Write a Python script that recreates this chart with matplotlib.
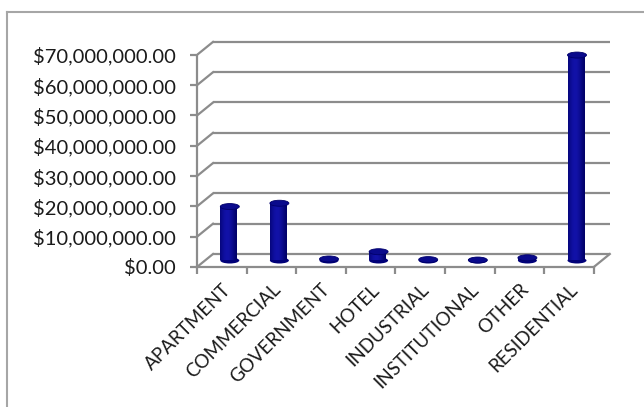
import numpy as np
import matplotlib.pyplot as plt
from matplotlib.patches import Ellipse
from matplotlib.ticker import FuncFormatter

categories = ["APARTMENT", "COMMERCIAL", "GOVERNMENT", "HOTEL", "INDUSTRIAL",
              "INSTITUTIONAL", "OTHER", "RESIDENTIAL"]
totals = [17.8e6, 18.9e6, 0.5e6, 2.9e6, 0.3e6, 0.15e6, 0.9e6, 67.8e6]
y_ticks = [0, 10e6, 20e6, 30e6, 40e6, 50e6, 60e6, 70e6]

grid_color = "#8c8c8c"
text_color = "#1a1a1a"
font = "Lato"

W, H = 644, 407
fig = plt.figure(figsize=(W / 100, H / 100), dpi=100)

# plot area in pixels: left, bottom, width, height
ax_px = (197, 137, 418, 230)
ax = fig.add_axes([ax_px[0] / W, ax_px[1] / H, ax_px[2] / W, ax_px[3] / H])

px_cat = 49.6        # pixels per category
px_10m = 30.3        # pixels per $10M
xmin = -0.5
xmax = xmin + ax_px[2] / px_cat
ymin = -3 / px_10m * 1e7
ymax = (ax_px[3] - 3) / px_10m * 1e7

# depth offset of the fake 3d box
dx = 16 / px_cat
dy = 13 / px_10m * 1e7
n = len(categories)

# back wall gridlines and side wall diagonals
for v in y_ticks:
    ax.plot([xmin + dx, n - 0.5 + dx], [v + dy, v + dy], color=grid_color, lw=1.6,
            solid_capstyle="butt", zorder=1)
    ax.plot([xmin, xmin + dx], [v, v + dy], color=grid_color, lw=1.6, zorder=1)
# floor right edge
ax.plot([n - 0.5, n - 0.5 + dx], [0, dy], color=grid_color, lw=1.6, zorder=1)

# cylinders
cyl_w = 19 / px_cat
ell_h = 6 / px_10m * 1e7
t = np.linspace(-1, 1, 64)
shade = np.cos((t + 0.25) * np.pi / 2.2) ** 1.5
dark = np.array([0.0, 0.0, 0.40])
light = np.array([0.07, 0.07, 0.66])
grad = (dark[None, :] + (light - dark)[None, :] * shade[:, None])[None, :, :]

for i, v in enumerate(totals):
    cx = i + dx / 2
    y0 = dy / 2
    y1 = v + dy / 2
    ax.add_patch(Ellipse((cx, y0), cyl_w, ell_h, facecolor="#000078",
                         edgecolor="none", zorder=3))
    ax.imshow(grad, extent=[cx - cyl_w / 2, cx + cyl_w / 2, y0, y1],
              aspect="auto", interpolation="bilinear", zorder=4)
    ax.add_patch(Ellipse((cx, y1), cyl_w, ell_h, facecolor="#0a0a8c",
                         edgecolor="#00006a", lw=0.6, zorder=5))

ax.set_xlim(xmin, xmax)
ax.set_ylim(ymin, ymax)

# front axes
for side in ("top", "right"):
    ax.spines[side].set_visible(False)
ax.spines["left"].set_bounds(0, 70e6)
ax.spines["bottom"].set_position(("data", 0))
ax.spines["bottom"].set_bounds(-0.5, n - 0.5)
for side in ("left", "bottom"):
    ax.spines[side].set_color(grid_color)
    ax.spines[side].set_linewidth(1.6)

ax.set_yticks(y_ticks)
ax.yaxis.set_major_formatter(FuncFormatter(lambda v, p: f"${v:,.2f}"))
ax.tick_params(axis="y", colors=grid_color, labelcolor=text_color, length=5,
               width=1.6, pad=10, labelsize=14.5)

ax.set_xticks(np.arange(n + 1) - 0.5)
ax.set_xticklabels([])
ax.set_xticks(np.arange(n), minor=True)
ax.set_xticklabels(categories, minor=True, rotation=45, ha="right",
                   rotation_mode="anchor", fontsize=13.5, color=text_color)
ax.tick_params(axis="x", which="major", colors=grid_color, length=5, width=1.6)
ax.tick_params(axis="x", which="minor", length=0, pad=10)

for lbl in ax.get_xticklabels(minor=True) + ax.get_yticklabels():
    lbl.set_fontfamily(font)

# chart area border (top and left edges)
fig.add_artist(plt.Line2D([7 / W, 7 / W], [0, 1 - 12 / H], color="#a6a6a6", lw=1.5))
fig.add_artist(plt.Line2D([7 / W, 1], [1 - 12 / H, 1 - 12 / H], color="#a6a6a6", lw=1.5))

fig.savefig("out.png", dpi=100)
